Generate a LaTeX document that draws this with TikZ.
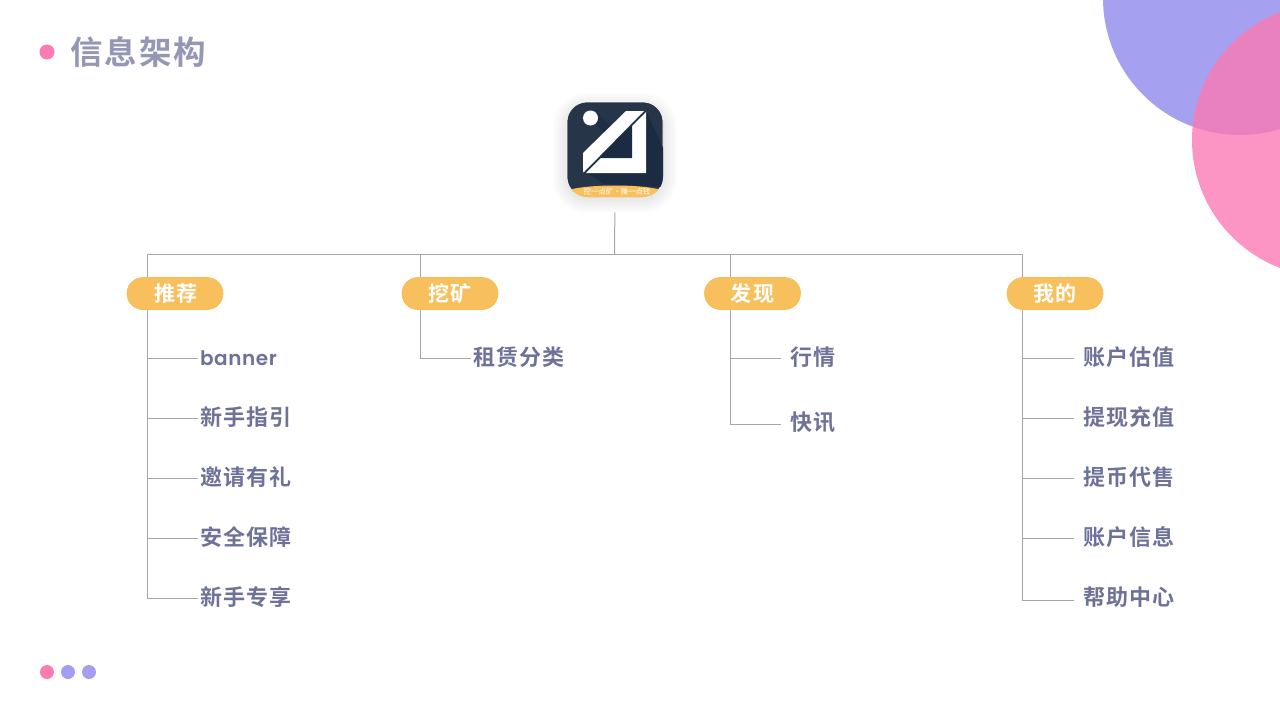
\documentclass[tikz,border=0pt]{standalone}
\usepackage{fontspec}
\setmainfont{Noto Sans CJK SC}[BoldFont=* Bold]
\newfontfamily\cjkb[LetterSpace=6]{Noto Sans CJK SC Bold}
\newfontfamily\latb[LetterSpace=3]{Poppins SemiBold}
\usetikzlibrary{backgrounds}
\definecolor{pinkc}{HTML}{FB7BB4}
\definecolor{purpc}{HTML}{A49EF0}
\definecolor{pillc}{HTML}{F8C05C}
\definecolor{pilld}{HTML}{F6BA50}
\definecolor{leafc}{HTML}{6E7299}
\definecolor{titlec}{HTML}{9498B5}
\definecolor{linec}{HTML}{A6A6A6}
\definecolor{navy}{HTML}{263548}
\definecolor{navyd}{HTML}{1B2B42}
\tikzset{
  conn/.style={draw=linec,line width=1pt},
  pill/.style={draw=pilld,line width=.6pt,fill=pillc,rounded corners=15.9pt,minimum width=96pt,minimum height=32pt,inner sep=0pt,text=white,font=\cjkb\fontsize{21}{22}\selectfont},
  leaf/.style={anchor=west,inner sep=0pt,outer sep=0pt,text=leafc,text height=17pt,text depth=3pt,font=\cjkb\fontsize{22}{24}\selectfont},
  dot/.style={circle,fill=#1,inner sep=0pt,minimum size=15pt},
  iconbox/.style={fill=navy,draw=white,line width=.6pt,rounded corners=20pt,minimum width=96pt,minimum height=95pt,inner sep=0pt},
  toconn/.style={conn,shorten >=#1}
}
\begin{document}
\begin{tikzpicture}[x=1pt,y=-1pt]
\useasboundingbox (0,0) rectangle (1280,720);
\clip (0,0) rectangle (1280,720);
% decorative circles
\fill[purpc,opacity=.98] (1240,-2) circle[radius=137];
\fill[pinkc,opacity=.8] (1329,140) circle[radius=137];
% title
\node[dot=pinkc] (titledot) at (47,52) {};
\node[anchor=west,inner sep=0pt,text=titlec,font=\cjkb\fontsize{32.5}{36}\selectfont] (title) at (70,52.5) {信息架构};
\node[dot=pinkc,minimum size=14pt] (d1) at (47,672) {};
\node[dot=purpc,minimum size=14pt] (d2) at (68,672) {};
\node[dot=purpc,minimum size=14pt] (d3) at (89,672) {};
% icon shadow
\foreach \g in {14,12,10,8,6,4,2,0}
  \fill[black,opacity=.012,rounded corners={20pt+\g*1pt}] (567-\g,107-\g) rectangle (663+\g,199+\g);
% icon
\node[iconbox] (root) at (615,149.5) {};
\begin{scope}
  \clip[rounded corners=20pt] (567,102) rectangle (663,197);
  \fill[navyd] (646,111) -- (664,150) -- (664,187) -- (604,184) -- (585,172) -- cycle;
  \fill[navyd!70!navy] (590,118) -- (597,113) -- (612,128) -- (604,133) -- cycle;
  \fill[white] (583,153) -- (626,111) -- (644,111) -- (584,172) -- (583,172) -- cycle;
  \fill[white] (646,112) -- (646,173) -- (586,173) -- cycle;
  \fill[navyd] (632,125) -- (632,158) -- (599,158) -- cycle;
  \fill[pillc] (560,199) -- (568,190) .. controls (590,184) and (640,184) .. (662,190) -- (670,199) -- cycle;
\end{scope}
\node[inner sep=0pt,text=white,font=\fontsize{7.4}{8}\selectfont] (slogan) at (617,191.5) {挖一点矿·赚一点钱};
\fill[white] (590.5,118) circle[radius=7.5];
% pills
\node[pill] (tuijian) at (175,293.5) {\hspace{1.5pt}推荐};
\node[pill] (waikuang) at (450,293.5) {挖矿};
\node[pill] (faxian) at (752.5,293.5) {发现};
\node[pill] (wode) at (1055,293.5) {我的};
% coordinates of the bus
\coordinate (busroot) at (614.5,254);
\coordinate (sA) at (147,254);
\coordinate (sB) at (420,254);
\coordinate (sC) at (730,254);
\coordinate (sD) at (1022,254);
% leaves
\node[leaf,font=\latb\fontsize{20}{24}\selectfont] (a1) at (200,358) {banner};
\node[leaf] (a2) at (200,418) {新手指引};
\node[leaf] (a3) at (200,478) {邀请有礼};
\node[leaf] (a4) at (200,538) {安全保障};
\node[leaf] (a5) at (200,598) {新手专享};
\node[leaf] (b1) at (473,358) {租赁分类};
\node[leaf] (c1) at (790.5,358) {行情};
\node[leaf] (c2) at (790.5,423) {快讯};
\node[leaf] (d4a) at (1083,358) {账户估值};
\node[leaf] (d4b) at (1083,418) {提现充值};
\node[leaf] (d4c) at (1083,478) {提币代售};
\node[leaf] (d4d) at (1083,538) {账户信息};
\node[leaf] (d4e) at (1083,598) {帮助中心};
\begin{pgfonlayer}{background}
\draw[conn,shorten <=15pt] (root.south) -- (busroot);
\draw[conn] (sA) -- (sD);
\foreach \n in {a1,a2,a3,a4,a5} \draw[toconn=2.5pt] (sA) |- (\n.west);
\draw[toconn=2.5pt] (sB) |- (b1.west);
\draw[toconn=10pt] (sC) |- (c1.west);
\draw[toconn=10pt] (sC) |- ([yshift=-1pt]c2.west);
\foreach \n in {d4a,d4b,d4c,d4d} \draw[toconn=9pt] (sD) |- (\n.west);
\draw[toconn=9pt] (sD) |- ([yshift=-2pt]d4e.west);
\end{pgfonlayer}
\end{tikzpicture}
\end{document}
